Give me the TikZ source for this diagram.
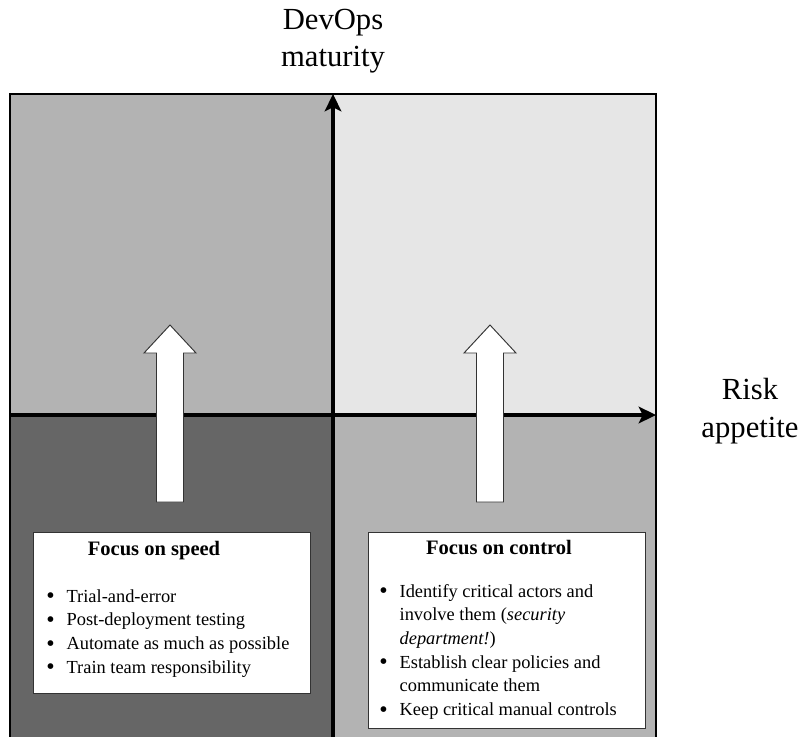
\documentclass[tikz,border=0pt]{standalone}
\usepackage{fontspec}
\setmainfont{Liberation Serif}
\usetikzlibrary{positioning,arrows.meta}

\definecolor{qlight}{HTML}{E6E6E6}
\definecolor{qmid}{HTML}{B3B3B3}
\definecolor{qdark}{HTML}{666666}
\newcommand{\bul}{\raisebox{-0.2ex}{\scalebox{1.3}{\textbullet}}}

\begin{document}
\begin{tikzpicture}[x=0.75pt, y=-0.75pt,
  quad/.style={draw=black!55, line width=0.6pt},
  axis/.style={line width=2.3pt, -{Stealth[length=13pt, width=12.5pt, inset=3pt]}},
  upbig/.style={draw=black!80, fill=white, line width=0.7pt, line join=miter},
  box/.style={draw=black!80, fill=white, line width=1pt, inner sep=0pt, anchor=north west},
  head/.style={font=\fontsize{15.4}{18}\selectfont\bfseries, inner sep=0pt},
  blist/.style={font=\fontsize{13.8}{17.8}\selectfont, inner sep=0pt, anchor=base west},
  axlabel/.style={font=\fontsize{23}{28}\selectfont, align=center, inner sep=0pt}]
  \useasboundingbox (0,0) rectangle (800,736);

  % Quadrants
  \filldraw [quad, fill=qmid]  (10,94)  rectangle (333,415);
  \filldraw [quad, fill=qlight] (333,94) rectangle (656,415);
  \filldraw [quad, fill=qdark] (10,415) rectangle (333,750);
  \filldraw [quad, fill=qmid]  (333,415) rectangle (656,750);
  \draw [line width=1.6pt] (656,750) -- (656,94) -- (10,94) -- (10,750);

  % Axes
  \coordinate (xstart) at (10,415);
  \coordinate (xend) at (656,415);
  \coordinate (ystart) at (333,750);
  \coordinate (yend) at (333,94);
  \draw [axis] (xstart) -- (xend);
  \draw [axis] (ystart) -- (yend);

  % Axis labels
  \node [axlabel] (devops) at (333,41) {DevOps\\maturity};
  \node [axlabel] (risk) at (750,411) {Risk\\appetite};

  % Block arrows
  \foreach \x in {170,490}
    \draw [upbig] (\x-13.5,502) -- (\x-13.5,353) -- (\x-26,353) -- (\x,325)
      -- (\x+26,353) -- (\x+13.5,353) -- (\x+13.5,502) -- cycle;

  % Boxes
  \node [box, minimum width=207.75pt, minimum height=120.75pt] (speedbox) at (33,532) {};
  \node [box, minimum width=207.75pt, minimum height=147pt] (ctrlbox) at (368,532) {};

  \node [head] (speedhead) at (154,551) {Focus on speed};
  \node [head] (ctrlhead) at (499,547) {Focus on control};

  \node [blist] (speedlist) at (46,602) {%
    \begin{tabular}[t]{@{}l@{\hspace{9pt}}l@{}}
      \bul & Trial-and-error\\
      \bul & Post-deployment testing\\
      \bul & Automate as much as possible\\
      \bul & Train team responsibility
    \end{tabular}};
  \node [blist] (ctrllist) at (379,597) {%
    \begin{tabular}[t]{@{}l@{\hspace{9pt}}l@{}}
      \bul & Identify critical actors and\\
           & involve them (\textit{security}\\
           & \textit{department!})\\
      \bul & Establish clear policies and\\
           & communicate them\\
      \bul & Keep critical manual controls
    \end{tabular}};
\end{tikzpicture}
\end{document}
